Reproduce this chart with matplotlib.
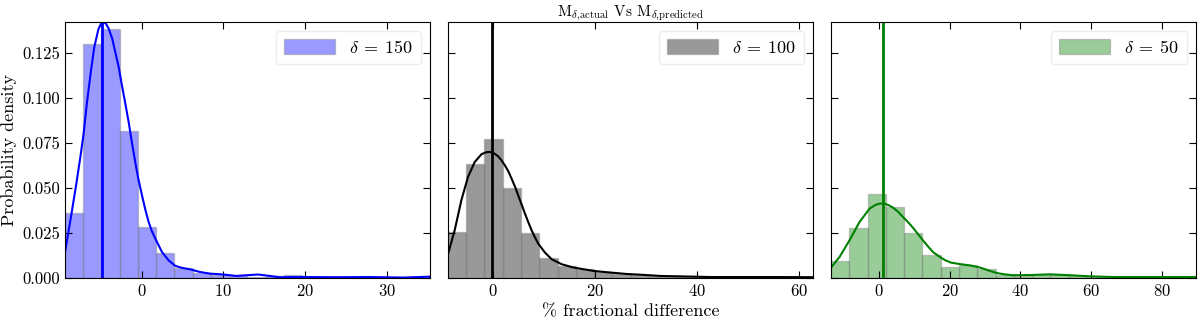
import numpy as np
import matplotlib
matplotlib.use("Agg")
import matplotlib.pyplot as plt

plt.rcParams['font.family'] = 'serif'
plt.rcParams['font.serif'] = ['cmr10', 'DejaVu Serif']
plt.rcParams['mathtext.fontset'] = 'cm'
plt.rcParams['axes.formatter.use_mathtext'] = True
plt.rcParams['font.size'] = 12

# histogram ranges (data min / max) and bin heights, 20 bins each
lo150, hi150 = -9.4, 35.3
h150 = [0.0363, 0.1300, 0.1383, 0.0817, 0.0285, 0.0141, 0.0056, 0.0028, 0.0015, 0.0010,
        0.0006, 0.0010, 0.0014, 0.0004, 0.0004, 0.0004, 0.0004, 0.0004, 0.0003, 0.0004]
lo100, hi100 = -8.85, 62.8
h100 = [0.0256, 0.0632, 0.0771, 0.0497, 0.0247, 0.0111, 0.0065, 0.0047, 0.0033, 0.0024,
        0.0017, 0.0013, 0.0009, 0.0007, 0.0005, 0.0004, 0.0004, 0.0004, 0.0003, 0.0003]
lo50, hi50 = -13.5, 89.8
h50 = [0.0094, 0.0280, 0.0469, 0.0394, 0.0247, 0.0126, 0.0061, 0.0071, 0.0047, 0.0015,
       0.0013, 0.0015, 0.0015, 0.0012, 0.0006, 0.0004, 0.0003, 0.0003, 0.0003, 0.0004]

# kde curves
kx150 = [-9.4, -8.57, -8.0, -7.5, -7.1, -6.7, -6.2, -5.8, -5.3, -4.86, -4.4, -4.04, -3.6,
         -3.23, -2.8, -2.41, -2.0, -1.59, -1.2, -0.78, -0.4, 0.04, 0.45, 0.86, 1.25, 1.67,
         2.49, 3.3, 4.12, 4.93, 5.91, 7.14, 8.36, 9.99, 11.6, 12.85, 14.27, 15.7, 16.9, 19.8,
         23.9, 27.9, 32.0, 35.3]
ky150 = [0.0135, 0.036, 0.052, 0.067, 0.080, 0.097, 0.115, 0.128, 0.138, 0.1422, 0.1415,
         0.1386, 0.133, 0.1256, 0.117, 0.107, 0.097, 0.0867, 0.0755, 0.0644, 0.055, 0.046,
         0.038, 0.0311, 0.026, 0.0219, 0.0144, 0.0098, 0.0067, 0.0056, 0.0048, 0.0033, 0.0024,
         0.0019, 0.0011, 0.0015, 0.0019, 0.0011, 0.0004, 0.0005, 0.0004, 0.0005, 0.0002, 0.0007]
kx100 = [-8.85, -7.53, -6.22, -4.92, -3.6, -2.28, -1.4, -0.65, 0.2, 0.98, 1.6, 2.3, 3.0, 3.62,
         4.3, 4.92, 5.6, 6.24, 6.9, 7.55, 8.2, 8.85, 10.17, 11.49, 13.46, 15.74, 19.7, 22.96,
         26.2, 29.5, 32.8, 36.1, 42.6, 49.2, 55.8, 62.8]
ky100 = [0.0132, 0.0265, 0.0432, 0.0561, 0.0644, 0.0687, 0.0698, 0.0700, 0.0692, 0.0676,
         0.0655, 0.0626, 0.0592, 0.0552, 0.0507, 0.0459, 0.0408, 0.0358, 0.0310, 0.0265,
         0.0226, 0.0191, 0.0141, 0.0104, 0.0076, 0.0058, 0.0039, 0.0030, 0.0022, 0.0017,
         0.0011, 0.0009, 0.0005, 0.0005, 0.0005, 0.0004]
kx50 = [-13.5, -11.1, -8.3, -5.46, -2.63, -1.0, 0.2, 1.6, 2.8, 3.96, 5.4, 6.8, 8.2, 9.6,
        11.0, 12.45, 13.9, 15.3, 17.2, 18.8, 20.4, 23.2, 26.0, 28.9, 30.8, 33.2, 35.5, 37.9,
        42.7, 48.3, 54.0, 59.6, 66.2, 75.7, 89.8]
ky50 = [0.0058, 0.0117, 0.0209, 0.0311, 0.0385, 0.0405, 0.0413, 0.0413, 0.0404, 0.0391,
        0.0368, 0.0339, 0.0311, 0.0280, 0.0245, 0.0209, 0.0175, 0.0144, 0.0117, 0.0098,
        0.0085, 0.0076, 0.0069, 0.0056, 0.0043, 0.0028, 0.0020, 0.0015, 0.0016, 0.0020,
        0.0015, 0.0009, 0.0005, 0.0005, 0.0005]

peaks = [-4.82, -0.3, 1.13]
labels = [r'$\delta\:=\:150$', r'$\delta\:=\:100$', r'$\delta\:=\:50$']
colors = ['blue', 'black', 'green']

fig, axs = plt.subplots(1, 3, figsize=(12, 3.18), dpi=100, sharey=True)
fig.subplots_adjust(left=0.054, right=0.997, bottom=0.126, top=0.931, wspace=0.049)

data = [(lo150, hi150, h150, kx150, ky150),
        (lo100, hi100, h100, kx100, ky100),
        (lo50, hi50, h50, kx50, ky50)]

for ax, (lo, hi, h, kx, ky), pk, lab, c in zip(axs, data, peaks, labels, colors):
    edges = np.linspace(lo, hi, len(h) + 1)
    ax.bar(edges[:-1], h, width=np.diff(edges), align='edge', color=c, alpha=0.4,
           edgecolor='gray', linewidth=1, label=lab)
    ax.plot(kx, ky, color=c, lw=1.5)
    ax.axvline(pk, color=c, lw=2)
    ax.set_xlim(lo, hi)
    ax.tick_params(direction='in', top=True, right=True, length=5, labelsize=12)
    ax.legend(loc='upper right', fontsize=13, handlelength=2.8, handleheight=0.9,
              edgecolor='#e8e8e8', borderpad=0.45, handletextpad=0.8)

axs[0].set_ylim(0, 0.1422)
axs[0].set_yticks([0, 0.025, 0.05, 0.075, 0.1, 0.125])
axs[0].set_yticklabels(['0.000', '0.025', '0.050', '0.075', '0.100', '0.125'])
axs[0].set_ylabel('Probability density', fontsize=13)
axs[0].set_xticks([0, 10, 20, 30])
axs[1].set_xticks([0, 20, 40, 60])
axs[2].set_xticks([0, 20, 40, 60, 80])
axs[1].set_xlabel(r'% fractional difference', fontsize=13)
axs[1].set_title(r'$\mathrm{M}_{\delta{,}\mathrm{actual}}$ Vs $\mathrm{M}_{\delta{,}\mathrm{predicted}}$',
                 fontsize=11, pad=4)

plt.savefig('out.png', dpi=100)
